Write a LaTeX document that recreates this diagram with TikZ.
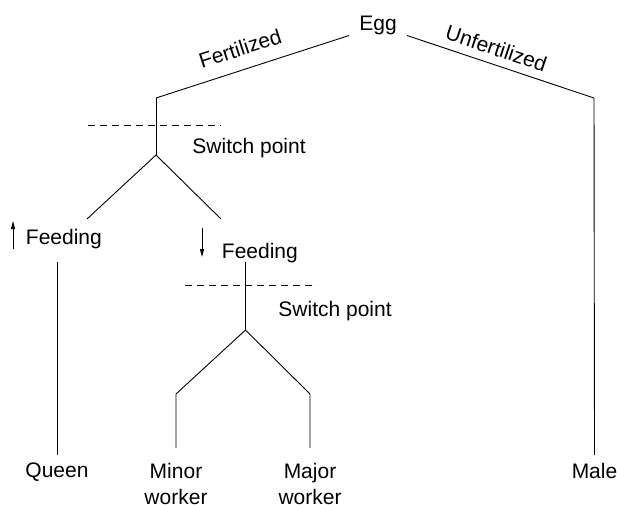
\documentclass[tikz,border=0pt]{standalone}
\usepackage{fontspec}
\setmainfont{Liberation Sans}
\usetikzlibrary{arrows.meta}

\begin{document}
\begin{tikzpicture}[x=1pt, y=-1pt, line width=0.9pt,
        font=\fontsize{21}{26}\selectfont,
        every node/.style={inner sep=0pt},
        leaf/.style={anchor=north, align=center, inner sep=7.7pt},
        cut/.style={dash pattern=on 6.5pt off 5.5pt, line width=0.8pt},
        feed/.style={-{Triangle[length=8pt,width=4pt]}}]
    \useasboundingbox (0,0) rectangle (617,504);
    % the egg and its two ways
    \node[inner sep=10pt, anchor=base] (egg) at (378,30) {Egg};
    \coordinate (fert) at (156,98);
    \coordinate (unfert) at (594,98);
    \draw (egg.200) -- node[pos=.53, sloped, above=13pt] {Fertilized} (fert);
    \draw (egg.340) -- node[pos=.45, sloped, above=8pt] {Unfertilized} (unfert);
    % first switch point
    \coordinate (sw1) at (156,155);
    \coordinate (qend) at (87,219);
    \coordinate (wend) at (221,219);
    \draw (fert) -- (sw1);
    \draw (qend) -- (sw1) -- (wend);
    \draw[cut] (88,125) -- (221,125);
    \node[anchor=base west] (sp1) at (192,153.3) {Switch point};
    % feeding
    \node[anchor=base west] (feedq) at (25.5,244.3) {Feeding};
    \node[anchor=base west] (feedw) at (221.5,258.3) {Feeding};
    \draw[feed] (13,249) -- (13,221);
    \draw[feed] (202,228) -- (202,257);
    % second switch point
    \coordinate (qtop) at (57,262);
    \coordinate (wtop) at (245.5,262);
    \coordinate (sw2) at (245.5,330);
    \coordinate (minc) at (176,394);
    \coordinate (majc) at (310,394);
    \draw (wtop) -- (sw2);
    \draw[cut] (185,285) -- (317,285);
    \node[anchor=base west] (sp2) at (278,316) {Switch point};
    % castes
    \node[leaf] (queen) at (57,455) {Queen};
    \node[leaf, inner ysep=14.7pt] (minor) at (176,448) {Minor\\worker};
    \node[leaf, inner ysep=14.7pt] (major) at (310,448) {Major\\worker};
    \node[leaf] (male) at (594.5,455) {Male};
    \draw (qtop) -- (queen.north);
    \draw (minor.north) -- (minc) -- (sw2) -- (majc) -- (major.north);
    \draw (unfert) -- (male.north);
\end{tikzpicture}
\end{document}
